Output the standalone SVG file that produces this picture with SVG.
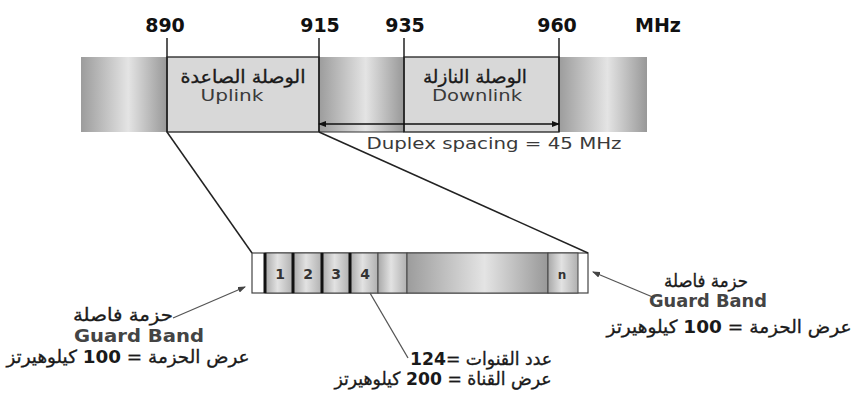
<svg xmlns="http://www.w3.org/2000/svg" width="866" height="397" viewBox="0 0 866 397">
<defs>
  <linearGradient id="gBand" x1="0" y1="0" x2="1" y2="0">
    <stop offset="0" stop-color="#9c9c9c"/>
    <stop offset="0.55" stop-color="#e4e4e4"/>
    <stop offset="1" stop-color="#989898"/>
  </linearGradient>
  <linearGradient id="gCell" x1="0" y1="0" x2="1" y2="0">
    <stop offset="0" stop-color="#a8a8a8"/>
    <stop offset="0.45" stop-color="#e2e2e2"/>
    <stop offset="1" stop-color="#b0b0b0"/>
  </linearGradient>
  <marker id="ah" markerWidth="8" markerHeight="6" refX="7" refY="3" orient="auto" markerUnits="userSpaceOnUse">
    <path d="M0,0 L8,3 L0,6 z" fill="#111"/>
  </marker>
  <marker id="ahs" markerWidth="8" markerHeight="6" refX="1" refY="3" orient="auto" markerUnits="userSpaceOnUse">
    <path d="M8,0 L0,3 L8,6 z" fill="#111"/>
  </marker>
  <marker id="ahg" markerWidth="8" markerHeight="6" refX="7" refY="3" orient="auto" markerUnits="userSpaceOnUse">
    <path d="M0,0 L8,3 L0,6 z" fill="#444"/>
  </marker>
</defs>
<style>
  .num { font-family: "DejaVu Sans", sans-serif; font-weight: bold; font-size: 19px; fill: #111; text-anchor: middle; }
  .en { font-family: "DejaVu Sans", sans-serif; font-size: 16px; fill: #3a3a3a; text-anchor: middle; }
  .enb { font-family: "DejaVu Sans", sans-serif; font-weight: bold; font-size: 17px; fill: #444; text-anchor: middle; }
  .ar { font-family: "DejaVu Sans", sans-serif; font-size: 18px; fill: #1a1a1a; stroke: #1a1a1a; stroke-width: 0.35; text-anchor: middle; direction: rtl; }
  .b { font-weight: bold; stroke-width: 0; }
  .cn { font-family: "DejaVu Sans", sans-serif; font-weight: bold; font-size: 14px; fill: #333; text-anchor: middle; }
  .box { fill: #d8d8d8; stroke: #222; stroke-width: 1.3; }
  .tick { stroke: #222; stroke-width: 1.5; fill: none; }
  .cell { fill: url(#gCell); stroke: #444; stroke-width: 1; }
  .sep { stroke: #111; stroke-width: 3; }
  .lead { stroke: #555; stroke-width: 1.3; fill: none; }
</style>

<g id="scale-labels">
  <text class="num" x="165" y="32">890</text>
  <text class="num" x="320" y="32">915</text>
  <text class="num" x="405" y="32">935</text>
  <text class="num" x="557" y="32">960</text>
  <text class="num" x="658" y="32">MHz</text>
</g>

<g id="top-band">
  <rect x="81" y="57" width="86" height="75" fill="url(#gBand)"/>
  <rect x="319" y="57" width="85" height="75" fill="url(#gBand)"/>
  <rect x="559" y="57" width="88" height="75" fill="url(#gBand)"/>
  <line x1="319" y1="132" x2="404" y2="132" stroke="#333" stroke-width="1.2"/>
</g>

<g id="uplink">
  <rect class="box" x="167" y="57" width="152" height="75"/>
  <text class="ar" x="243" y="83" textLength="125" lengthAdjust="spacingAndGlyphs">الوصلة الصاعدة</text>
  <text class="en" x="232" y="101" textLength="63" lengthAdjust="spacingAndGlyphs">Uplink</text>
</g>

<g id="downlink">
  <rect class="box" x="404" y="57" width="155" height="75"/>
  <text class="ar" x="475" y="83" textLength="104" lengthAdjust="spacingAndGlyphs">الوصلة النازلة</text>
  <text class="en" x="477" y="101" textLength="90" lengthAdjust="spacingAndGlyphs">Downlink</text>
</g>

<g id="ticks">
  <line class="tick" x1="167" y1="38" x2="167" y2="132"/>
  <line class="tick" x1="319" y1="38" x2="319" y2="132"/>
  <line class="tick" x1="404" y1="38" x2="404" y2="132"/>
  <line class="tick" x1="559" y1="38" x2="559" y2="132"/>
</g>

<g id="duplex">
  <text class="en" x="494" y="149" textLength="255" lengthAdjust="spacingAndGlyphs">Duplex spacing = 45 MHz</text>
</g>

<g id="channel-band">
  <rect x="252" y="253" width="336" height="40" fill="#fff" stroke="#444" stroke-width="1.2"/>
  <rect class="cell" x="265" y="253" width="28" height="40"/>
  <rect class="cell" x="293" y="253" width="29" height="40"/>
  <rect class="cell" x="322" y="253" width="28" height="40"/>
  <rect class="cell" x="350" y="253" width="28" height="40"/>
  <rect class="cell" x="378" y="253" width="29" height="40"/>
  <rect x="407" y="253" width="141" height="40" fill="url(#gBand)" stroke="#444" stroke-width="1"/>
  <rect class="cell" x="548" y="253" width="30" height="40"/>
  <line class="sep" x1="265" y1="253" x2="265" y2="293"/>
  <line class="sep" x1="293" y1="253" x2="293" y2="293"/>
  <line class="sep" x1="322" y1="253" x2="322" y2="293"/>
  <line class="sep" x1="350" y1="253" x2="350" y2="293"/>
  <text class="cn" x="280" y="279">1</text>
  <text class="cn" x="308" y="279">2</text>
  <text class="cn" x="336" y="279">3</text>
  <text class="cn" x="365" y="279">4</text>
  <text class="cn" x="562" y="279" style="font-size:12px">n</text>
</g>

<g id="connectors">
  <line x1="319" y1="124" x2="559" y2="124" stroke="#111" stroke-width="1.5" marker-start="url(#ahs)" marker-end="url(#ah)"/>
  <line class="tick" x1="167" y1="132" x2="252" y2="253"/>
  <line class="tick" x1="319" y1="132" x2="588" y2="253"/>
  <line class="lead" x1="173" y1="318" x2="245" y2="287" marker-end="url(#ahg)"/>
  <line class="lead" x1="655" y1="298" x2="593" y2="272" marker-end="url(#ahg)"/>
  <line class="lead" x1="370" y1="293" x2="408" y2="358"/>
</g>

<g id="guard-left">
  <text class="ar" x="123" y="321" textLength="100" lengthAdjust="spacingAndGlyphs">حزمة فاصلة</text>
  <text class="enb" x="139" y="342" textLength="130" lengthAdjust="spacingAndGlyphs">Guard Band</text>
  <text class="ar" x="128" y="363" textLength="243" lengthAdjust="spacingAndGlyphs">عرض الحزمة = <tspan class="b">100</tspan> كيلوهيرتز</text>
</g>

<g id="guard-right">
  <text class="ar" x="706" y="287" textLength="84" lengthAdjust="spacingAndGlyphs">حزمة فاصلة</text>
  <text class="enb" x="708" y="307" textLength="118" lengthAdjust="spacingAndGlyphs">Guard Band</text>
  <text class="ar" x="729" y="333" textLength="245" lengthAdjust="spacingAndGlyphs">عرض الحزمة =  <tspan class="b">100</tspan> كيلوهيرتز</text>
</g>

<g id="channel-info">
  <text class="ar" x="481" y="365" textLength="142" lengthAdjust="spacingAndGlyphs">عدد القنوات =<tspan class="b">124</tspan></text>
  <text class="ar" x="443" y="385" textLength="217" lengthAdjust="spacingAndGlyphs">عرض القناة = <tspan class="b">200</tspan> كيلوهيرتز</text>
</g>
</svg>
